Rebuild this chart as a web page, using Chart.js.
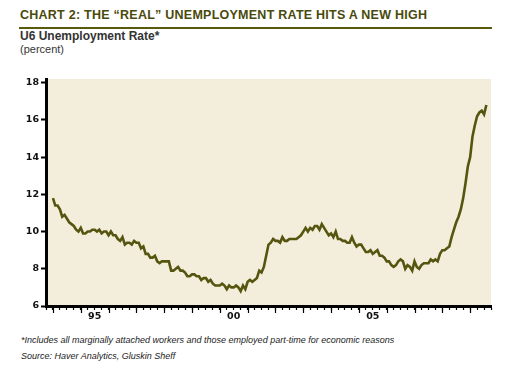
<!DOCTYPE html>
<html>
<head>
<meta charset="utf-8">
<script src="https://cdn.jsdelivr.net/npm/chart.js@4"></script>
<style>
  body { margin: 0; background: #fff; }
  #wrap { position: relative; width: 526px; height: 368px; overflow: hidden; font-family: "Liberation Sans", Arial, sans-serif; }
  #title { position: absolute; left: 20px; top: 8px; font-size: 12.5px; font-weight: bold; color: #4a4a0c; white-space: nowrap; letter-spacing: 0.25px; }
  #rule { position: absolute; left: 19px; top: 27px; width: 473px; height: 2px; background: #5a5a0c; }
  #sub1 { position: absolute; left: 20px; top: 29px; font-size: 12px; font-weight: bold; color: #333; }
  #sub2 { position: absolute; left: 20px; top: 43px; font-size: 11px; color: #333; }
  #note { position: absolute; left: 21px; top: 335px; font-size: 9px; font-style: italic; color: #222; white-space: nowrap; }
  #src { position: absolute; left: 21px; top: 351px; font-size: 9px; font-style: italic; color: #222; white-space: nowrap; }
  #holder { position: absolute; left: 0; top: 60px; width: 526px; height: 272px; }
</style>
</head>
<body>
<div id="wrap">
  <div id="title">CHART 2: THE “REAL” UNEMPLOYMENT RATE HITS A NEW HIGH</div>
  <div id="rule"></div>
  <div id="sub1">U6 Unemployment Rate*</div>
  <div id="sub2">(percent)</div>
  <div id="holder"><canvas id="chart"></canvas></div>
  <div id="note">*Includes all marginally attached workers and those employed part-time for economic reasons</div>
  <div id="src">Source: Haver Analytics, Gluskin Sheff</div>
</div>
<script>
// monthly U6 rate, Jan 1994 .. Aug 2009
const startYear = 1994;
const u6 = [
  11.8, 11.4, 11.4, 11.2, 10.8, 10.9, 10.7, 10.5, 10.4, 10.3, 10.1, 10.0,  // 1994
  10.2, 9.9, 9.9, 10.0, 10.0, 10.1, 10.1, 10.0, 10.1, 9.9, 10.0, 10.0,     // 1995
  9.8, 10.0, 9.8, 9.8, 9.6, 9.5, 9.7, 9.3, 9.4, 9.4, 9.3, 9.5,             // 1996
  9.4, 9.4, 9.1, 9.2, 8.8, 8.8, 8.6, 8.6, 8.7, 8.4, 8.3, 8.4,              // 1997
  8.4, 8.4, 8.4, 7.9, 7.9, 8.0, 8.1, 7.9, 7.9, 7.8, 7.6, 7.6,              // 1998
  7.7, 7.7, 7.6, 7.6, 7.4, 7.5, 7.5, 7.3, 7.4, 7.2, 7.1, 7.1,              // 1999
  7.1, 7.2, 7.1, 6.9, 7.1, 7.0, 7.0, 7.1, 7.0, 6.8, 7.1, 6.9,              // 2000
  7.3, 7.4, 7.3, 7.4, 7.5, 7.9, 7.8, 8.1, 8.7, 9.3, 9.4, 9.6,              // 2001
  9.5, 9.5, 9.4, 9.7, 9.5, 9.5, 9.6, 9.6, 9.6, 9.6, 9.7, 9.8,              // 2002
  10.0, 10.2, 10.0, 10.2, 10.1, 10.3, 10.3, 10.1, 10.4, 10.2, 10.0, 9.8,   // 2003
  9.9, 9.7, 10.0, 9.6, 9.6, 9.5, 9.5, 9.4, 9.4, 9.7, 9.4, 9.2,             // 2004
  9.3, 9.3, 9.1, 8.9, 8.9, 9.0, 8.8, 8.9, 9.0, 8.7, 8.7, 8.6,              // 2005
  8.4, 8.4, 8.2, 8.1, 8.2, 8.4, 8.5, 8.4, 8.0, 8.2, 8.1, 7.9,              // 2006
  8.4, 8.1, 8.0, 8.2, 8.3, 8.3, 8.3, 8.5, 8.4, 8.5, 8.4, 8.8,              // 2007
  9.0, 9.0, 9.1, 9.2, 9.7, 10.1, 10.5, 10.8, 11.2, 11.8, 12.6, 13.5,       // 2008
  14.0, 15.1, 15.7, 16.2, 16.4, 16.5, 16.3, 16.8                           // 2009
];

const yTicks = [6, 8, 10, 12, 14, 16, 18];
const xLabelYears = [1995, 2000, 2005];
const xLabels = ['95', '00', '05'];

// x axis is months since Jan 1994
const points = u6.map((v, i) => ({ x: i, y: v }));
const xMin = -3, xMax = 189;

const plotBg = {
  id: 'plotBg',
  beforeDraw(chart) {
    const a = chart.chartArea, ctx = chart.ctx;
    ctx.save();
    ctx.fillStyle = '#f3eedc';
    ctx.fillRect(a.left, a.top, a.right - a.left, a.bottom - a.top);
    ctx.restore();
  }
};

// longer tick marks on the year boundaries
const yearTicks = {
  id: 'yearTicks',
  afterDraw(chart) {
    const sx = chart.scales.x, ctx = chart.ctx;
    const y0 = chart.chartArea.bottom;
    ctx.save();
    ctx.strokeStyle = '#000';
    ctx.lineWidth = 1.2;
    for (let m = 0; m <= xMax; m += 12) {
      const px = Math.round(sx.getPixelForValue(m)) + 0.5;
      ctx.beginPath();
      ctx.moveTo(px, y0);
      ctx.lineTo(px, y0 + 7);
      ctx.stroke();
    }
    ctx.restore();
  }
};

const tickFont = { family: '"DejaVu Sans", sans-serif', size: 9.5, weight: 'bold' };

new Chart(document.getElementById('chart'), {
  type: 'line',
  data: {
    datasets: [{
      data: points,
      borderColor: '#55550f',
      borderWidth: 2.6,
      pointRadius: 0,
      tension: 0,
      fill: false
    }]
  },
  options: {
    responsive: true,
    maintainAspectRatio: false,
    animation: false,
    layout: { padding: { left: 0, right: 35, top: 19, bottom: 6 } },
    plugins: { legend: { display: false }, tooltip: { enabled: false } },
    scales: {
      x: {
        type: 'linear',
        min: xMin,
        max: xMax,
        afterBuildTicks: (scale) => {
          const t = [];
          for (let m = xMin; m <= xMax; m += 3) t.push({ value: m });
          scale.ticks = t;
        },
        afterFit: (scale) => { scale.height = 20; },
        border: { color: '#000', width: 3 },
        grid: { drawOnChartArea: false, drawTicks: true, tickLength: 4, tickColor: '#000', tickWidth: 1.2 },
        ticks: {
          autoSkip: false,
          maxRotation: 0,
          padding: 1,
          color: '#111',
          font: tickFont,
          callback: (v) => {
            const k = xLabelYears.findIndex(yr => (yr - startYear) * 12 + 6 === v);
            return k >= 0 ? xLabels[k] : '';
          }
        }
      },
      y: {
        min: 6,
        max: 18.2,
        afterBuildTicks: (scale) => { scale.ticks = yTicks.map(v => ({ value: v })); },
        afterFit: (scale) => { scale.width = 46; },
        border: { color: '#000', width: 3 },
        grid: { drawOnChartArea: false, drawTicks: true, tickLength: 5, tickColor: '#000', tickWidth: 2 },
        ticks: { color: '#111', font: tickFont, padding: 2 }
      }
    }
  },
  plugins: [plotBg, yearTicks]
});
</script>
</body>
</html>
